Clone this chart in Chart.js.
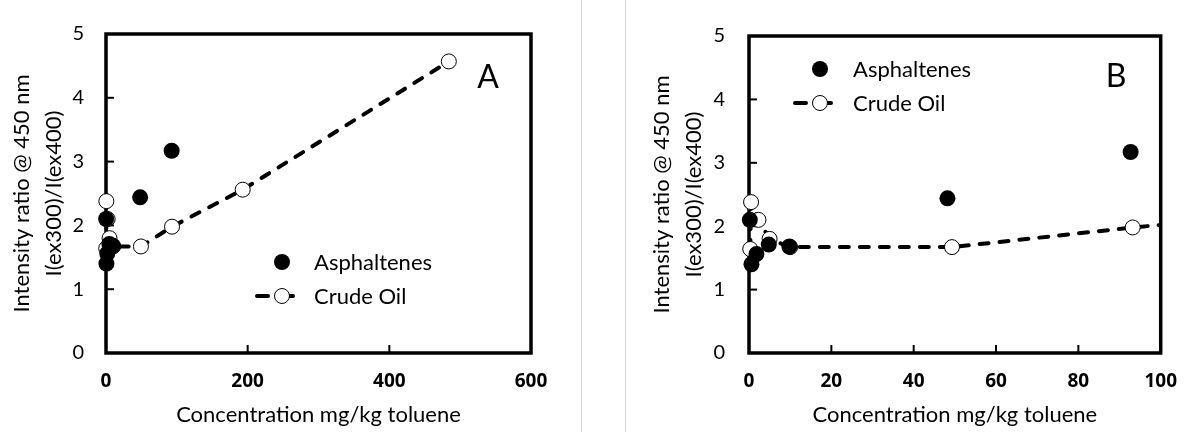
<!DOCTYPE html>
<html>
<head>
<meta charset="utf-8">
<script src="https://cdn.jsdelivr.net/npm/chart.js@4"></script>
<style>
    html, body { margin: 0; padding: 0; background: #fff; }
    body { width: 1194px; height: 432px; position: relative; overflow: hidden; }
    canvas { position: absolute; top: 0; }
    #chart-a { left: 0; }
    #chart-b { left: 626px; }
    .sep { position: absolute; top: 0; width: 1px; height: 432px; background: #d2d2d2; }
</style>
</head>
<body>
<canvas id="chart-a" width="581" height="432"></canvas>
<div class="sep" style="left:581px"></div>
<div class="sep" style="left:625px"></div>
<canvas id="chart-b" width="568" height="432"></canvas>
<script>
const fontFamily = 'Lato, "Open Sans", sans-serif';
const boldFamily = '"Open Sans", Lato, sans-serif';

const asphConc = [0.6, 1.8, 4.8, 9.8, 0.2, 48.2, 92.7];
const asphRatio = [1.40, 1.56, 1.71, 1.68, 2.10, 2.44, 3.17];
const crudeConc = [0.3, 0.5, 2.3, 5.0, 10.0, 49.3, 93.2, 193, 484];
const crudeRatio = [1.64, 2.38, 2.10, 1.80, 1.67, 1.67, 1.98, 2.56, 4.57];
const yTicks = [0, 1, 2, 3, 4, 5];
const xTicksA = [0, 200, 400, 600];
const xTicksB = [0, 20, 40, 60, 80, 100];
const xTitle = 'Concentration mg/kg toluene';
const yTitle = ['Intensity ratio @ 450 nm', 'I(ex300)/I(ex400)'];

function toPoints(xs, ys) {
    return xs.map((x, i) => ({x: x, y: ys[i]}));
}

// box frame, inward ticks, in-plot legend and panel letter
const panelDecor = {
    id: 'panelDecor',
    beforeDatasetsDraw(chart) {
        const {ctx, chartArea: a, scales: {x, y}} = chart;
        ctx.save();
        ctx.strokeStyle = '#000';
        ctx.lineWidth = 2;
        x.ticks.forEach(t => {
            const px = x.getPixelForValue(t.value);
            ctx.beginPath(); ctx.moveTo(px, a.bottom); ctx.lineTo(px, a.bottom - 8); ctx.stroke();
        });
        y.ticks.forEach(t => {
            const py = y.getPixelForValue(t.value);
            ctx.beginPath(); ctx.moveTo(a.left, py); ctx.lineTo(a.left + 8, py); ctx.stroke();
        });
        ctx.lineWidth = 3.5;
        ctx.strokeRect(a.left, a.top, a.width, a.height);
        ctx.restore();
    },
    afterDatasetsDraw(chart, args, opts) {
        const ctx = chart.ctx;
        ctx.save();
        chart.data.datasets.forEach((ds, i) => {
            const cx = opts.legend.x;
            const cy = opts.legend.y + i * opts.legend.gap;
            if (ds.showLine) {
                ctx.strokeStyle = ds.borderColor;
                ctx.lineWidth = ds.borderWidth;
                ctx.lineCap = 'round';
                ctx.beginPath();
                ctx.moveTo(cx - 25, cy); ctx.lineTo(cx - 14, cy);
                ctx.moveTo(cx + 6, cy); ctx.lineTo(cx + 11, cy);
                ctx.stroke();
            }
            ctx.beginPath();
            ctx.arc(cx, cy, ds.pointRadius, 0, Math.PI * 2);
            ctx.fillStyle = ds.pointBackgroundColor;
            ctx.fill();
            if (ds.pointBorderWidth) {
                ctx.lineWidth = ds.pointBorderWidth;
                ctx.strokeStyle = ds.pointBorderColor;
                ctx.stroke();
            }
            ctx.fillStyle = '#000';
            ctx.font = '22px ' + fontFamily;
            ctx.textAlign = 'left';
            ctx.textBaseline = 'alphabetic';
            ctx.fillText(ds.label, opts.legend.textX, cy + 8);
        });
        ctx.font = '32px ' + fontFamily;
        ctx.textAlign = 'center';
        ctx.fillText(opts.letter.text, opts.letter.x, opts.letter.y);
        ctx.restore();
    }
};

function makeGraph(id, xTicks, box, decor) {
    const canvas = document.getElementById(id);
    return new Chart(canvas, {
        type: 'scatter',
        data: {
            datasets: [
                {label: 'Asphaltenes', data: toPoints(asphConc, asphRatio), showLine: false,
                 pointRadius: 8, pointHoverRadius: 8, pointBackgroundColor: '#000', pointBorderColor: '#000',
                 pointBorderWidth: 0, clip: box.clip},
                {label: 'Crude Oil', data: toPoints(crudeConc, crudeRatio), showLine: true,
                 borderColor: '#000', borderWidth: 4, borderDash: [9, 11], borderCapStyle: 'round',
                 pointRadius: 7.5, pointHoverRadius: 7.5, pointBackgroundColor: '#fff', pointBorderColor: '#000',
                 pointBorderWidth: 1, clip: box.clip}
            ]
        },
        options: {
            responsive: false,
            animation: false,
            events: [],
            layout: {padding: {top: box.top, right: canvas.width - box.right, left: 0, bottom: 0}},
            plugins: {legend: {display: false}, tooltip: {enabled: false}, panelDecor: decor},
            scales: {
                x: {
                    type: 'linear', min: xTicks[0], max: xTicks[xTicks.length - 1],
                    afterBuildTicks: s => { s.ticks = xTicks.map(v => ({value: v})); },
                    afterFit: s => { s.height = canvas.height - box.bottom; },
                    grid: {display: false, drawTicks: false},
                    border: {display: false},
                    ticks: {color: '#000', padding: 17, maxRotation: 0, autoSkip: false,
                            font: {family: boldFamily, size: 19, weight: 700}},
                    title: {display: true, text: xTitle, color: '#000', padding: {top: 0, bottom: 4},
                            font: {family: fontFamily, size: 22}}
                },
                y: {
                    type: 'linear', min: 0, max: 5,
                    afterBuildTicks: s => { s.ticks = yTicks.map(v => ({value: v})); },
                    afterFit: s => { s.width = box.left; },
                    grid: {display: false, drawTicks: false},
                    border: {display: false},
                    ticks: {color: '#000', padding: box.tickPad, font: {family: fontFamily, size: 20}},
                    title: {display: true, text: yTitle, color: '#000', padding: {top: box.titlePad, bottom: 0},
                            font: {family: fontFamily, size: 22, lineHeight: 1.45}}
                }
            }
        },
        plugins: [panelDecor]
    });
}

const graphA = makeGraph('chart-a', xTicksA,
    {left: 106, top: 21, right: 531, bottom: 353, tickPad: 22, titlePad: 6,
     clip: {left: 12, top: 12, right: 12, bottom: 12}},
    {legend: {x: 282, y: 262, gap: 34, textX: 314}, letter: {text: 'A', x: 488, y: 88}});

const graphB = makeGraph('chart-b', xTicksB,
    {left: 123, top: 21, right: 546, bottom: 353, tickPad: 24, titlePad: 20,
     clip: {left: 12, top: 12, right: 0, bottom: 12}},
    {legend: {x: 194, y: 69, gap: 34, textX: 227}, letter: {text: 'B', x: 490, y: 87}});
</script>
</body>
</html>
